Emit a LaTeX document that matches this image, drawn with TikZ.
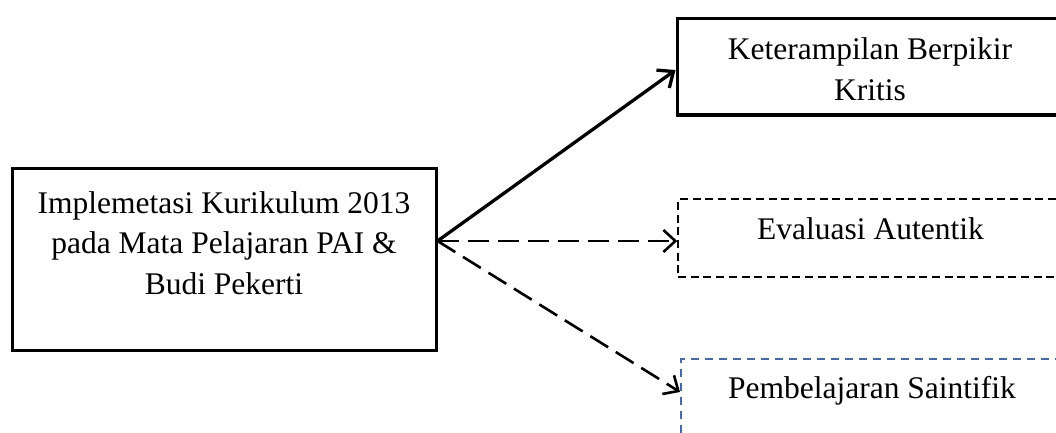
\documentclass[tikz,border=0pt]{standalone}
\usepackage{fontspec}
\setmainfont{Liberation Serif}
\usetikzlibrary{arrows.meta,calc}
\definecolor{boxblue}{RGB}{72,106,158}
\tikzset{
  solidbox/.style={draw=black, line width=3pt, rectangle, inner sep=0pt},
  dashbox/.style={draw=black, line width=1.4pt, rectangle, inner sep=0pt, dash pattern=on 8pt off 4.7pt},
  bluebox/.style={draw=boxblue, line width=2pt, rectangle, inner sep=0pt, dash pattern=on 8pt off 6pt},
  txt/.style={anchor=base, inner sep=0pt, font=\fontsize{31.5}{40}\selectfont},
  solidarrow/.style={line width=3.3pt, -{Straight Barb[length=13pt, width=22pt, line width=3.3pt]}},
  dasharrow/.style={line width=2.6pt, dash pattern=on 21pt off 9pt, -{Straight Barb[length=12pt, width=22pt, line width=2.6pt]}}
}
\begin{document}
\begin{tikzpicture}[x=1pt, y=-1pt]
\useasboundingbox (0,0) rectangle (1056,433);
\node[solidbox, minimum width=424pt, minimum height=182pt] (lb) at (224,259) {};
\node[txt] (l1) at (224,213) {Implemetasi Kurikulum 2013};
\node[txt] (l2) at (224,253) {pada Mata Pelajaran PAI \&};
\node[txt] (l3) at (224,294) {Budi Pekerti};

\node[solidbox, minimum width=386pt, minimum height=96pt] (tb) at (870,67) {};
\node[txt] (t1) at (870,60) {Keterampilan Berpikir};
\node[txt] (t2) at (870,100) {Kritis};

\node[dashbox, minimum width=385pt, minimum height=78pt] (eb) at (870.5,238) {};
\node[txt] (e1) at (870.5,239) {Evaluasi Autentik};

\node[bluebox, minimum width=382pt, minimum height=80pt] (pb) at (872,399) {};
\node[txt] (p1) at (872,398) {Pembelajaran Saintifik};

\coordinate (src) at ($(lb.east)+(0,-18)$);
\draw[solidarrow] (src) -- ($(tb.west)+(0,3)$);
\draw[dasharrow] (src) -- ($(eb.west)+(0,3)$);
\draw[dasharrow] (src) -- ($(pb.west)+(0,-7)$);
\end{tikzpicture}
\end{document}
